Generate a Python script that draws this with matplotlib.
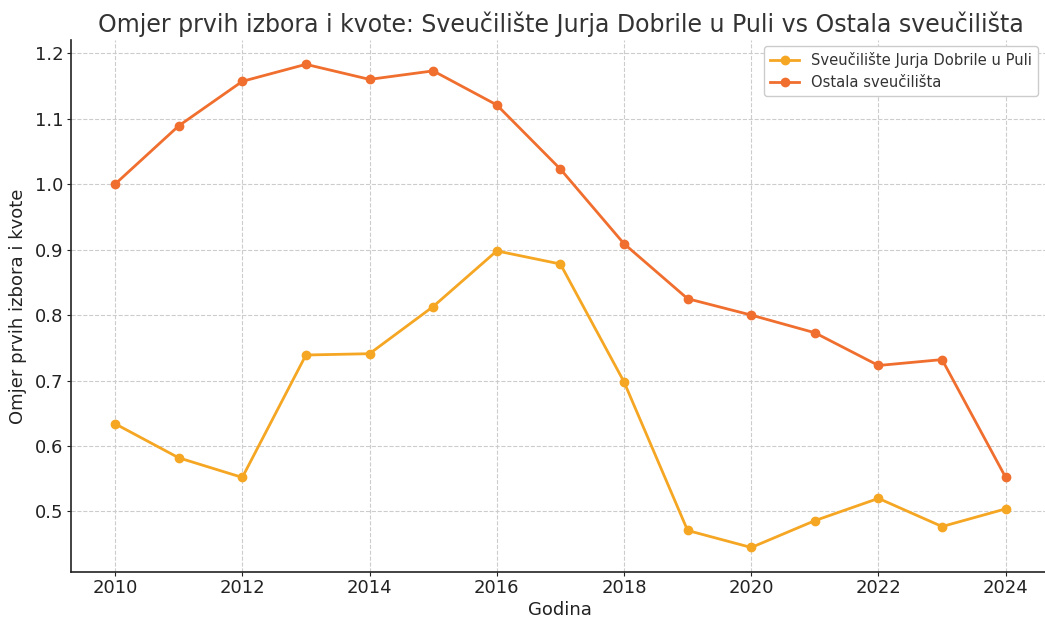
import matplotlib
matplotlib.use("Agg")
import matplotlib.pyplot as plt

years = list(range(2010, 2025))
pula = [0.634, 0.582, 0.552, 0.739, 0.741, 0.813, 0.898, 0.878, 0.698,
        0.471, 0.445, 0.486, 0.520, 0.477, 0.504]
ostala = [1.000, 1.089, 1.157, 1.183, 1.160, 1.173, 1.121, 1.023, 0.909,
          0.825, 0.800, 0.773, 0.723, 0.732, 0.552]

title = "Omjer prvih izbora i kvote: Sveučilište Jurja Dobrile u Puli vs Ostala sveučilišta"
label_pula = "Sveučilište Jurja Dobrile u Puli"
label_ostala = "Ostala sveučilišta"

plt.rcParams['font.family'] = ['DejaVu Sans']
fig, ax = plt.subplots(figsize=(10.45, 6.18), dpi=100)
ax.plot(years, pula, marker='o', color='#F5A623', linewidth=2, markersize=6, label=label_pula)
ax.plot(years, ostala, marker='o', color='#F06E2E', linewidth=2, markersize=6, label=label_ostala)

ax.set_title(title, fontsize=17, color='#333333', pad=6)
ax.set_xlabel("Godina", fontsize=13, color='#222222', labelpad=3)
ax.set_ylabel("Omjer prvih izbora i kvote", fontsize=13, color='#222222', labelpad=6)
ax.tick_params(labelsize=13, colors='#222222', length=3, pad=2)
ax.set_xticks(range(2010, 2025, 2))
ax.grid(True, linestyle='--', color='#cccccc', linewidth=0.8)
for s in ['top', 'right']:
    ax.spines[s].set_visible(False)
for s in ['left', 'bottom']:
    ax.spines[s].set_color('#222222')
    ax.spines[s].set_linewidth(1.2)
leg = ax.legend(loc='upper right', fontsize=10.6, framealpha=1, borderaxespad=0.4,
                bbox_to_anchor=(0.9935, 1.0))
for t in leg.get_texts():
    t.set_color('#333333')
fig.subplots_adjust(left=0.0675, right=1.005, top=0.935, bottom=0.075)
fig.savefig("out.png", dpi=100)
